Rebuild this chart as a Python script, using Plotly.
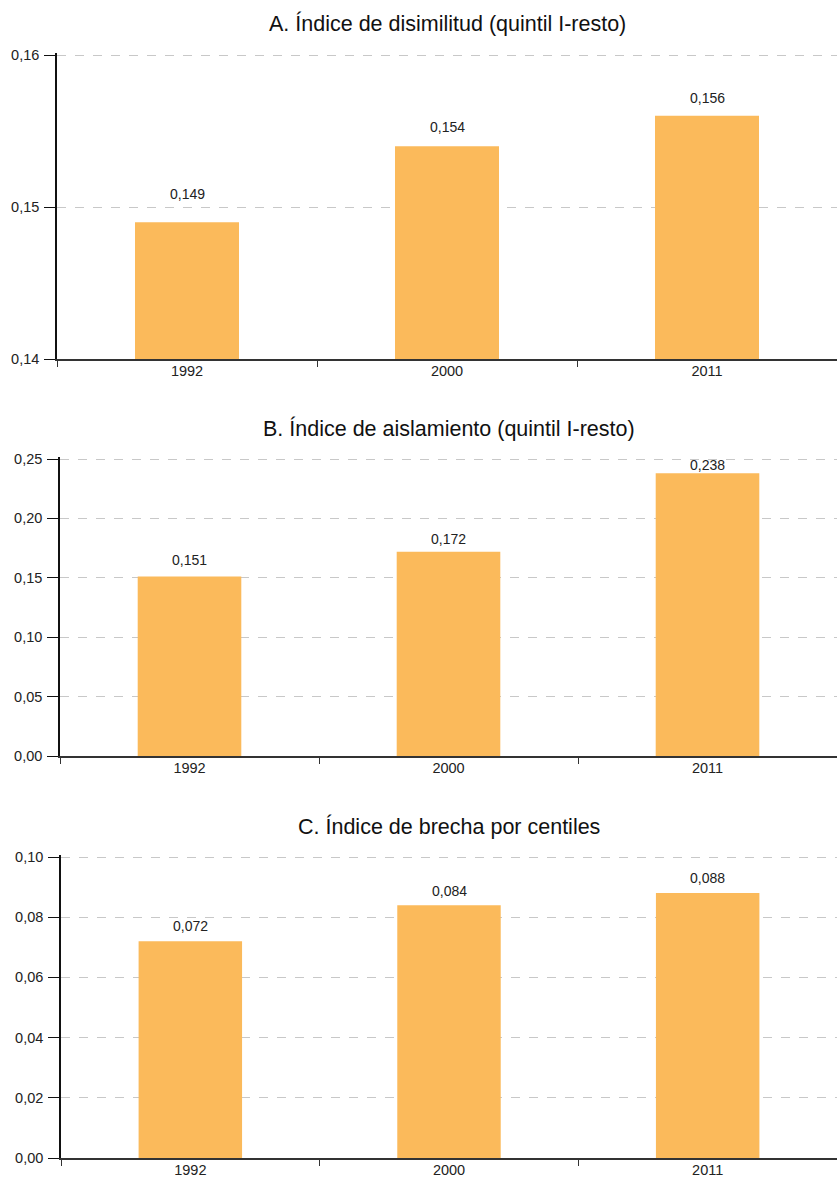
import plotly.graph_objects as go

years = ["1992", "2000", "2011"]
dissimilarity = [0.149, 0.154, 0.156]
isolation = [0.151, 0.172, 0.238]
centile_gap = [0.072, 0.084, 0.088]
titles = [
    "A. Índice de disimilitud (quintil I-resto)",
    "B. Índice de aislamiento (quintil I-resto)",
    "C. Índice de brecha por centiles",
]

series = [dissimilarity, isolation, centile_gap]
y_ranges = [[0.14, 0.16], [0.0, 0.25], [0.0, 0.10]]
y_dticks = [0.01, 0.05, 0.02]
label_shifts = [[28, 19, 18], [17, 13, 8], [15, 14, 15]]

W, H = 837, 1179
# pixel boxes (left, top, bottom)
boxes = [(57, 55, 359), (60, 459, 756), (61, 857, 1158)]
title_y = [24, 428, 826]
PAD = 2  # px extra above top gridline so it is not clipped

BAR = "#FBBA5B"
FONT = "Liberation Sans, Arial, sans-serif"

fig = go.Figure()
annotations = []
for i, (vals, box) in enumerate(zip(series, boxes)):
    n = "" if i == 0 else str(i + 1)
    xa, ya = "x" + n, "y" + n
    fig.add_trace(go.Bar(
        x=years, y=vals, xaxis=xa, yaxis=ya, width=0.4,
        marker=dict(color=BAR, line=dict(width=0)),
        showlegend=False, hoverinfo="x+y",
    ))
    for j, (v, s) in enumerate(zip(vals, label_shifts[i])):
        annotations.append(dict(
            x=j, y=v, xref=xa, yref=ya, text=f"{v:.3f}".replace(".", ","),
            showarrow=False, yanchor="middle", yshift=s,
            font=dict(size=14, color="#222", family=FONT),
        ))
    left, top, bottom = box
    lo, hi = y_ranges[i]
    span = hi - lo
    hi_pad = hi + span * PAD / (bottom - top)
    xdom = [left / W, 1.0]
    ydom = [1 - bottom / H, 1 - (top - PAD) / H]
    annotations.append(dict(
        x=(left + W) / 2 / W, y=1 - title_y[i] / H, xref="paper", yref="paper",
        text=titles[i], showarrow=False, xanchor="center", yanchor="middle",
        font=dict(size=21.5, color="#111", family=FONT),
    ))
    fig.update_layout(**{
        ("xaxis" + n): dict(
            domain=xdom, anchor=ya, type="category", tickson="boundaries",
            categoryorder="array", categoryarray=years,
            range=[-0.5, 2.5], autorange=False, automargin=False,
            ticks="outside", ticklen=6, tickcolor="#333", tickwidth=1.2,
            ticklabelstandoff=-2,
            showline=True, linecolor="#333", linewidth=1.5,
            showgrid=False, tickfont=dict(size=14.5, color="#222", family=FONT),
            tickangle=0, fixedrange=True,
        ),
        ("yaxis" + n): dict(
            domain=ydom, anchor=xa, range=[lo, hi_pad], autorange=False,
            automargin=False, dtick=y_dticks[i], tick0=0, tickformat=".2f",
            ticks="outside", ticklen=11, tickcolor="#111", tickwidth=1.2,
            ticklabelstandoff=2,
            showline=True, linecolor="#111", linewidth=1.5,
            showgrid=True, gridcolor="#C8C8C8", griddash="dash", gridwidth=1,
            zeroline=False, tickfont=dict(size=14.5, color="#222", family=FONT),
            fixedrange=True,
        ),
    })

fig.update_layout(
    width=W, height=H, margin=dict(l=0, r=0, t=0, b=0),
    plot_bgcolor="white", paper_bgcolor="white",
    separators=",.", annotations=annotations, bargap=0.6,
    font=dict(family=FONT),
)
fig.write_html(
    "out.html",
    config={"displayModeBar": False},
    post_script="document.body.style.margin='0';document.body.style.overflow='hidden';",
)
